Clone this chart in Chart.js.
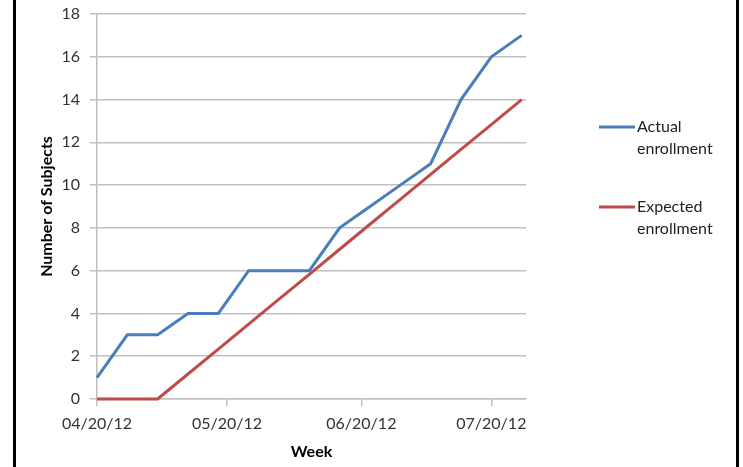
<!DOCTYPE html>
<html>
<head>
<meta charset="utf-8">
<script src="https://cdn.jsdelivr.net/npm/chart.js@4.4.1/dist/chart.umd.min.js"></script>
<style>
    body { margin: 0; background: #fff; overflow: hidden; }
    #wrap { position: relative; width: 743px; height: 467px; }
    #frame { position: absolute; left: 13px; top: 0; width: 720px; height: 467px;
             border-left: 3px solid #000; border-right: 3px solid #000; pointer-events: none; }
</style>
</head>
<body>
<div id="wrap">
    <canvas id="enrollChart" width="743" height="467"></canvas>
    <div id="frame"></div>
</div>
<script>
// date settimanali (mm/dd/yy)
const weeks = ['04/20/12', '04/27/12', '05/04/12', '05/11/12', '05/18/12', '05/25/12', '06/01/12',
    '06/08/12', '06/15/12', '06/22/12', '06/29/12', '07/06/12', '07/13/12', '07/20/12', '07/27/12'];
const actualEnrollment = [1, 3, 3, 4, 4, 6, 6, 6, 8, 9, 10, 11, 14, 16, 17];
const expectedEnrollment = [0, 0, 0, 1.17, 2.33, 3.5, 4.67, 5.83, 7, 8.17, 9.33, 10.5, 11.67, 12.83, 14];
const tickDates = ['04/20/12', '05/20/12', '06/20/12', '07/20/12'];
const seriesNames = ['Actual enrollment', 'Expected enrollment'];

function toDays(s) {
    const p = s.split('/');
    const t = Date.UTC(2000 + parseInt(p[2]), parseInt(p[0]) - 1, parseInt(p[1]));
    const p0 = weeks[0].split('/');
    const t0 = Date.UTC(2000 + parseInt(p0[2]), parseInt(p0[0]) - 1, parseInt(p0[1]));
    return Math.round((t - t0) / 86400000);
}

const tickDays = tickDates.map(toDays);
const gridColor = '#bfbfbf';
const font = 'Lato, "Open Sans", sans-serif';

// legenda disegnata a mano (etichette su due righe)
const sideLegend = {
    id: 'sideLegend',
    afterDraw(chart) {
        const ctx = chart.ctx;
        const rows = [127, 207];
        ctx.save();
        ctx.font = '16px ' + font;
        ctx.textBaseline = 'middle';
        ctx.textAlign = 'left';
        chart.data.datasets.forEach((ds, i) => {
            const y = rows[i];
            ctx.strokeStyle = ds.borderColor;
            ctx.lineWidth = 3;
            ctx.beginPath();
            ctx.moveTo(599, y);
            ctx.lineTo(635, y);
            ctx.stroke();
            ctx.fillStyle = '#222';
            ds.label.split(' ').forEach((w, j) => {
                ctx.fillText(w, 637, y + j * 22);
            });
        });
        ctx.restore();
    }
};

const ctx = document.getElementById('enrollChart').getContext('2d');
new Chart(ctx, {
    type: 'line',
    data: {
        datasets: [
            {
                label: seriesNames[0],
                data: weeks.map((w, i) => ({ x: toDays(w), y: actualEnrollment[i] })),
                borderColor: '#4a7ebb',
                borderWidth: 3,
                pointRadius: 0,
                tension: 0,
                clip: 6
            },
            {
                label: seriesNames[1],
                data: weeks.map((w, i) => ({ x: toDays(w), y: expectedEnrollment[i] })),
                borderColor: '#be4b48',
                borderWidth: 3,
                pointRadius: 0,
                tension: 0,
                clip: 6
            }
        ]
    },
    options: {
        responsive: false,
        animation: false,
        layout: { padding: { left: 0, right: 217, top: 14, bottom: 0 } },
        plugins: {
            legend: { display: false },
            tooltip: { enabled: false }
        },
        scales: {
            x: {
                type: 'linear',
                min: 0,
                max: 99,
                afterBuildTicks: (scale) => {
                    scale.ticks = tickDays.map(v => ({ value: v }));
                },
                afterFit: (scale) => {
                    scale.height = 68;
                    scale.paddingLeft = 0;
                    scale.paddingRight = 0;
                },
                ticks: {
                    autoSkip: false,
                    maxRotation: 0,
                    padding: 8,
                    color: '#333',
                    font: { family: font, size: 16 },
                    callback: (v) => tickDates[tickDays.indexOf(v)]
                },
                grid: { drawOnChartArea: false, tickLength: 7, color: gridColor, lineWidth: 1.5 },
                border: { color: gridColor, width: 1.5 },
                title: {
                    display: true,
                    text: 'Week',
                    color: '#000',
                    font: { family: font, size: 16, weight: 'bold' },
                    padding: { top: 0, bottom: 6 }
                }
            },
            y: {
                min: 0,
                max: 18,
                afterFit: (scale) => {
                    scale.width = 97;
                    scale.paddingTop = 0;
                    scale.paddingBottom = 0;
                },
                ticks: {
                    stepSize: 2,
                    padding: 10,
                    color: '#333',
                    font: { family: font, size: 16 }
                },
                grid: { tickLength: 7, color: gridColor, lineWidth: 1.5 },
                border: { color: gridColor, width: 1.5 },
                title: {
                    display: true,
                    text: 'Number of Subjects',
                    color: '#000',
                    font: { family: font, size: 16, weight: 'bold' },
                    padding: { top: 37, bottom: 0 }
                }
            }
        }
    },
    plugins: [sideLegend]
});
</script>
</body>
</html>
